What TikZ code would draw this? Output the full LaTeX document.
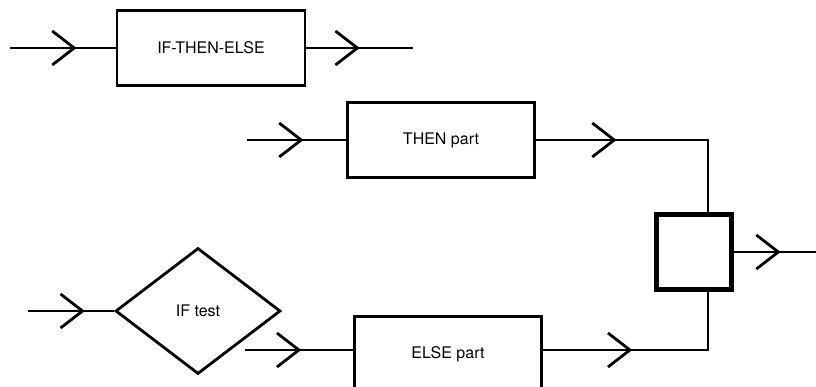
\documentclass[tikz,border=0pt]{standalone}
\usepackage{fontspec}
\setmainfont{TeX Gyre Heros}
\usetikzlibrary{shapes.geometric,arrows.meta,decorations.markings}

\begin{document}
\begin{tikzpicture}[x=1pt,y=-1pt,line width=2.8pt,
    box/.style={draw,rectangle,minimum width=188pt,minimum height=75pt,font=\fontsize{16}{19}\selectfont},
    flow/.style={postaction={decorate},decoration={markings,
        mark=at position #1 with {\arrow{Straight Barb[length=22pt,width=34pt]}}}}]
        \useasboundingbox (0,0) rectangle (816,387);
        \clip (0,0) rectangle (816,387);
        % blocks
        \node[box] (ite) at (211,48) {IF-THEN-ELSE};
        \node[box,minimum width=187pt] (then) at (441,140) {THEN part};
        \node[draw,diamond,minimum width=165pt,minimum height=126pt,inner sep=0pt,
            font=\fontsize{16}{19}\selectfont] (test) at (198,311) {IF test};
        \node[box,minimum width=187pt] (else) at (448,354) {ELSE part};
        \node[draw,minimum size=75pt,line width=4.5pt] (join) at (694,252) {};
        % free ends and corners
        \coordinate (in1) at (10,48);
        \coordinate (out1) at (413,48);
        \coordinate (in2) at (247,140);
        \coordinate (tc) at (708,140);
        \coordinate (out2) at (816,252);
        \coordinate (in3) at (28,311);
        \coordinate (ifout) at (245,350);
        \coordinate (ec) at (708,350);
        % flow lines
        \draw[flow=0.63] (in1) -- (ite);
        \draw[flow=0.5] (ite) -- (out1);
        \draw[flow=0.57] (in2) -- (then);
        \draw[flow=0.33] (then) -- (tc) -- (tc |- join.north);
        \draw[flow=0.57] (join) -- (out2);
        \draw[flow=0.66] (in3) -- (test);
        \draw[flow=0.52] (ifout) -- (ifout -| else.west);
        \draw[flow=0.40] (ec -| else.east) -- (ec) -- (ec |- join.south);
    \end{tikzpicture}
\end{document}
